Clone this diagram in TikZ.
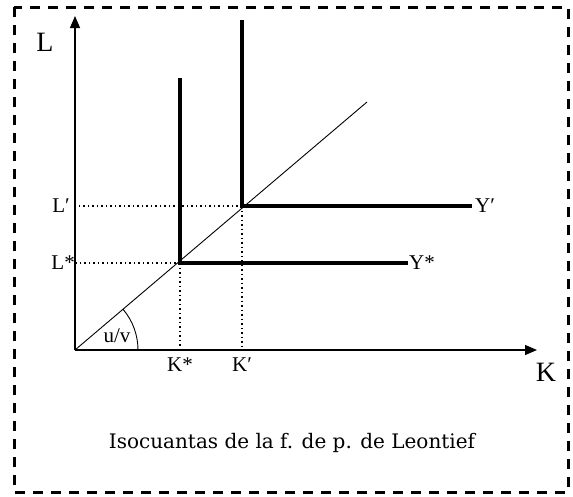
\documentclass[tikz,border=0pt]{standalone}
\usepackage{fontspec}
\setmainfont{Liberation Serif}
\newfontfamily\captionfont{DejaVu Serif}
\usetikzlibrary{arrows.meta}

\begin{document}
\begin{tikzpicture}[
    x=1pt, y=-1pt,
    axis/.style={line width=1.3pt, -{Triangle[length=12pt,width=10pt]}},
    iso/.style={line width=3.2pt},
    guide/.style={line width=1.3pt, dash pattern=on 1.5pt off 3pt},
    ray/.style={line width=0.9pt},
    lbl/.style={font=\fontsize{21}{21}\selectfont, inner sep=1pt},
    big/.style={font=\fontsize{28}{28}\selectfont, inner sep=0pt}
]
\useasboundingbox (0,0) rectangle (573,496);

% Frame
\draw[line width=3pt, dash pattern=on 10pt off 8pt] (14,7) rectangle (568,492);

% Define points
\coordinate (O) at (75,350);
\coordinate (ytop) at (75,16);
\coordinate (xend) at (537,350);
\coordinate (A) at (180,263);
\coordinate (B) at (242,206);
\coordinate (rayend) at (367,102);
\coordinate (Atop) at (180,78);
\coordinate (Aend) at (408,263);
\coordinate (Btop) at (242,20);
\coordinate (Bend) at (472,206);

% Axes
\draw[axis] (O) -- (ytop);
\draw[axis] (O) -- (xend);
\node[big] (Llab) at (45,42) {L};
\node[big] (Klab) at (546,372) {K};

% Ray and angle
\draw[ray] (O) -- (rayend);
\draw[ray] (138,350) arc[start angle=0, end angle=-40.4, radius=63];
\node[lbl] (uv) at (117,336) {u/v};

% Isoquants
\draw[iso] (Atop) -- (A) -- (Aend);
\draw[iso] (Btop) -- (B) -- (Bend);
\node[lbl, anchor=west] (ystar) at (Aend) {Y*};
\node[lbl, anchor=west] (yprime) at ([xshift=2pt]Bend) {Y′};

% Guides
\draw[guide] (A) -- (A -| O);
\draw[guide] (B) -- (B -| O);
\draw[guide] (A) -- (A |- O);
\draw[guide] (B) -- (B |- O);
\node[lbl, anchor=east] (lstar) at ([xshift=1pt]A -| O) {L*};
\node[lbl, anchor=east] (lprime) at ([xshift=-4pt]B -| O) {L′};
\node[lbl, anchor=north] (kstar) at ([yshift=-7pt]A |- O) {K*};
\node[lbl, anchor=north] (kprime) at ([yshift=-7pt]B |- O) {K′};

% Caption
\node[font=\captionfont\fontsize{20}{20}\selectfont] (cap) at (292,443) {Isocuantas de la f. de p. de Leontief};

\end{tikzpicture}
\end{document}
